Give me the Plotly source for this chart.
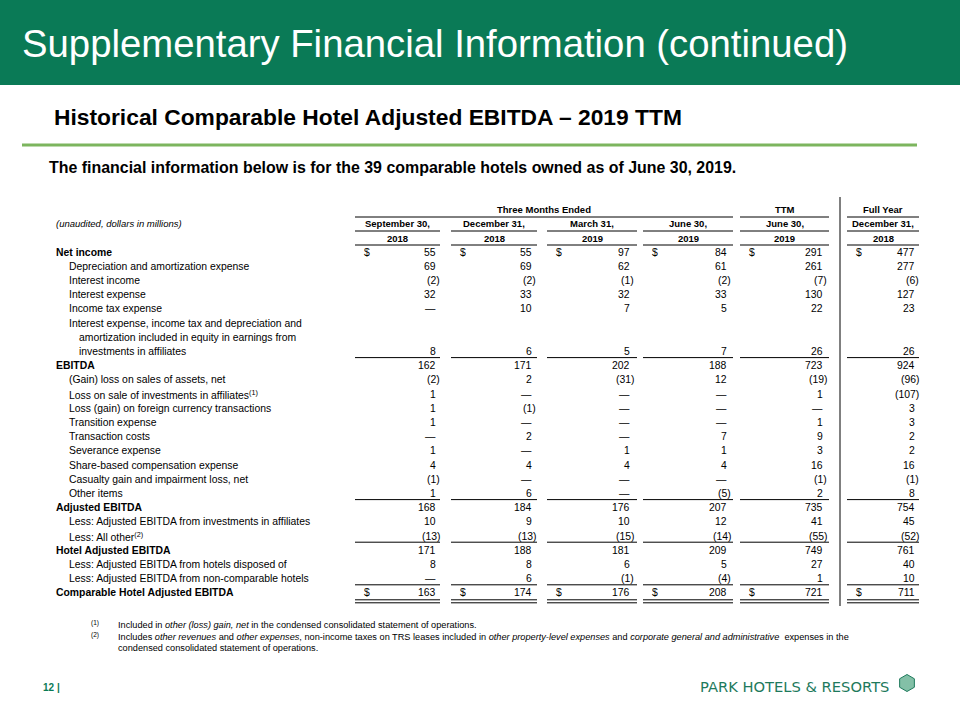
import plotly.graph_objects as go

# ---- data ----
row_labels = [
    "Net income",
    "Depreciation and amortization expense",
    "Interest income",
    "Interest expense",
    "Income tax expense",
    "Interest expense, income tax and depreciation and",
    "amortization included in equity in earnings from",
    "investments in affiliates",
    "EBITDA",
    "(Gain) loss on sales of assets, net",
    "Loss on sale of investments in affiliates<sup>(1)</sup>",
    "Loss (gain) on foreign currency transactions",
    "Transition expense",
    "Transaction costs",
    "Severance expense",
    "Share-based compensation expense",
    "Casualty gain and impairment loss, net",
    "Other items",
    "Adjusted EBITDA",
    "Less: Adjusted EBITDA from investments in affiliates",
    "Less: All other<sup>(2)</sup>",
    "Hotel Adjusted EBITDA",
    "Less: Adjusted EBITDA from hotels disposed of",
    "Less: Adjusted EBITDA from non-comparable hotels",
    "Comparable Hotel Adjusted EBITDA",
]
bold_rows = [0, 8, 18, 21, 24]
wrap_rows = [6, 7]
dollar_rows = [0, 24]
total_rows = [8, 18, 21, 24]  # a rule is drawn above these

col_groups = ["Three Months Ended", "TTM", "Full Year"]
col_months = ["September 30,", "December 31,", "March 31,", "June 30,", "June 30,", "December 31,"]
col_years = ["2018", "2018", "2019", "2019", "2019", "2018"]

# 0 shows as a dash, None is blank
sep_2018 = [55, 69, -2, 32, 0, None, None, 8, 162, -2, 1, 1, 1, 0, 1, 4, -1, 1, 168, 10, -13, 171, 8, 0, 163]
dec_2018 = [55, 69, -2, 33, 10, None, None, 6, 171, 2, 0, -1, 0, 2, 0, 4, 0, 6, 184, 9, -13, 188, 8, 6, 174]
mar_2019 = [97, 62, -1, 32, 7, None, None, 5, 202, -31, 0, 0, 0, 0, 1, 4, 0, 0, 176, 10, -15, 181, 6, -1, 176]
jun_2019 = [84, 61, -2, 33, 5, None, None, 7, 188, 12, 0, 0, 0, 7, 1, 4, 0, -5, 207, 12, -14, 209, 5, -4, 208]
ttm_2019 = [291, 261, -7, 130, 22, None, None, 26, 723, -19, 1, 0, 1, 9, 3, 16, -1, 2, 735, 41, -55, 749, 27, 1, 721]
fy_2018 = [477, 277, -6, 127, 23, None, None, 26, 924, -96, -107, 3, 3, 2, 2, 16, -1, 8, 754, 45, -52, 761, 40, 10, 711]
columns = [sep_2018, dec_2018, mar_2019, jun_2019, ttm_2019, fy_2018]

footnote_1 = "Included in <i>other (loss) gain, net</i> in the condensed consolidated statement of operations."
footnote_2 = ("Includes <i>other revenues</i> and <i>other expenses</i>, non-income taxes on TRS leases included in "
              "<i>other property-level expenses</i> and <i>corporate general and administrative</i>  expenses in the")
footnote_2b = "condensed consolidated statement of operations."

# ---- layout constants (pixel space) ----
GREEN = "#0A7A56"
FONT = "Liberation Sans, Arial, sans-serif"
row_y0, row_step = 252, 14.2
col_span = [(355, 440), (451, 537), (547, 637), (643, 733), (740, 829), (847, 919)]
num_right = [437, 533, 631, 728, 824, 916]


def ry(i):
    return row_y0 + row_step * i


def fmt(v):
    if v is None:
        return ""
    if v == 0:
        return "\u2014"
    if v < 0:
        return f"({-v})"
    return str(v)


fig = go.Figure()
ann = []
shapes = []


def text(x, y, s, size=10.4, bold=False, color="black", anchor="left", family=FONT, italic=False):
    if bold:
        s = f"<b>{s}</b>"
    if italic:
        s = f"<i>{s}</i>"
    ann.append(dict(x=x, y=y, text=s, showarrow=False, xanchor=anchor, yanchor="middle",
                    font=dict(size=size, color=color, family=family), borderpad=0))


def hline(x0, x1, y, width=1, color="black"):
    shapes.append(dict(type="line", x0=x0, x1=x1, y0=y, y1=y, line=dict(color=color, width=width)))


# header band
shapes.append(dict(type="rect", x0=0, x1=960, y0=0, y1=85, fillcolor=GREEN, line=dict(width=0), layer="below"))
text(21, 43, "Supplementary Financial Information (continued)", size=38.3, color="white")

text(53, 117, "Historical Comparable Hotel Adjusted EBITDA \u2013 2019 TTM", size=22.8, bold=True)
hline(22, 917, 145, width=3, color="#7CB55E")
text(48, 167, "The financial information below is for the 39 comparable hotels owned as of June 30, 2019.",
     size=15.95, bold=True)

# column headers
text((col_span[0][0] + col_span[3][1]) / 2, 209, col_groups[0], size=9.5, bold=True, anchor="center")
text((col_span[4][0] + col_span[4][1]) / 2, 209, col_groups[1], size=9.5, bold=True, anchor="center")
text((col_span[5][0] + col_span[5][1]) / 2, 209, col_groups[2], size=9.5, bold=True, anchor="center")
text(55, 223, "(unaudited, dollars in millions)", size=9.5, italic=True)
hline(col_span[0][0], col_span[3][1], 217)
hline(col_span[4][0], col_span[4][1], 217)
hline(col_span[5][0], col_span[5][1], 217)
for c, (x0, x1) in enumerate(col_span):
    mid = (x0 + x1) / 2
    text(mid, 223, col_months[c], size=9.5, bold=True, anchor="center")
    text(mid, 238, col_years[c], size=9.5, bold=True, anchor="center")
    hline(x0, x1, 231)
    hline(x0, x1, 245)

# row labels
for i, lab in enumerate(row_labels):
    x = 55 if i in bold_rows else (78 if i in wrap_rows else 68)
    text(x, ry(i), lab, bold=i in bold_rows)

# values
for c, vals in enumerate(columns):
    x0, x1 = col_span[c]
    for i, v in enumerate(vals):
        s = fmt(v)
        if not s:
            continue
        xr = num_right[c] + (4 if v is not None and v < 0 else 0)
        text(xr, ry(i), s, anchor="right")
    for i in dollar_rows:
        text(x0 + 8, ry(i), "$")
    for i in total_rows:
        hline(x0, x1, ry(i) - 8)
    hline(x0, x1, ry(len(row_labels) - 1) + 7)
    hline(x0, x1, ry(len(row_labels) - 1) + 10)

# TTM / full year divider
shapes.append(dict(type="line", x0=840, x1=840, y0=197, y1=606, line=dict(color="black", width=1)))

# footnotes
text(90, 623, "(1)", size=6.5)
text(117, 625, footnote_1, size=9.2)
text(90, 635, "(2)", size=6.5)
text(117, 637, footnote_2, size=9.2)
text(117, 648, footnote_2b, size=9.2)

# footer
text(42, 687, "12 |", size=10, bold=True, color=GREEN)
text(699, 686, "PARK HOTELS &amp; RESORTS", size=14.7, color="#1E7A5C", family="DejaVu Sans, sans-serif")
fig.add_trace(go.Scatter(x=[907], y=[683], mode="markers", hoverinfo="skip",
                         marker=dict(symbol="hexagon", size=17, color="rgba(30,140,95,0.55)",
                                     line=dict(color="#1E7A5C", width=1))))

fig.update_layout(
    width=960, height=720, margin=dict(l=0, r=0, t=0, b=0),
    paper_bgcolor="white", plot_bgcolor="white", showlegend=False,
    xaxis=dict(range=[0, 960], visible=False, fixedrange=True),
    yaxis=dict(range=[720, 0], visible=False, fixedrange=True),
    annotations=ann, shapes=shapes,
)

fig.write_html("out.html", config={"displayModeBar": False},
               post_script="document.body.style.margin='0';")
